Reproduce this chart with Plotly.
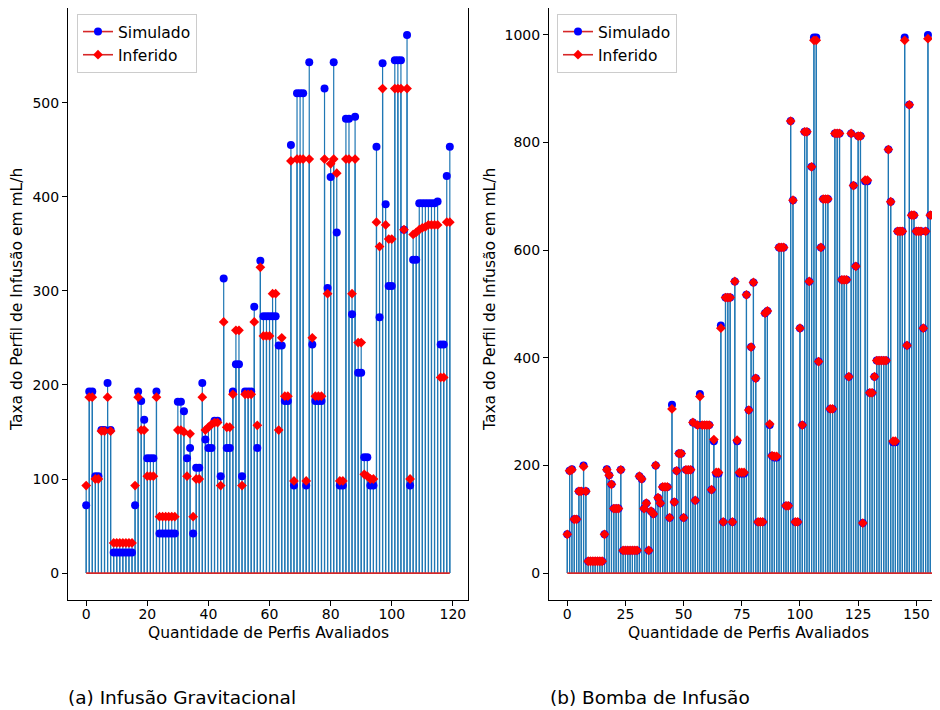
import plotly.graph_objects as go

# ---------------- data ----------------
# (a) Infusão Gravitacional
grav_sim = [72, 193, 193, 103, 103, 152, 152, 202, 152,
            22, 22, 22, 22, 22, 22, 22,
            72, 193, 183, 163, 122, 122, 122, 193,
            42, 42, 42, 42, 42, 42,
            182, 182, 172, 122, 133, 42, 112, 112, 202, 142,
            133, 133, 162, 162, 103, 313, 133, 133, 193, 222,
            222, 103, 193, 193, 193, 283, 133, 332, 273, 273,
            273, 273, 273, 242, 242, 183, 183, 455, 93, 510,
            510, 510, 93, 543, 243, 183, 183, 183, 515, 303,
            421, 543, 362, 93, 93, 483, 483, 275, 485, 213,
            213, 123, 123, 93, 93, 453, 272, 542, 392, 305,
            305, 545, 545, 545, 365, 572, 93, 333, 333, 393,
            393, 393, 393, 393, 393, 395, 243, 243, 422, 453]
grav_inf = [93, 187, 187, 100, 100, 151, 151, 187, 151,
            32, 32, 32, 32, 32, 32, 32,
            93, 187, 152, 152, 103, 103, 103, 187,
            60, 60, 60, 60, 60, 60,
            152, 152, 150, 103, 148, 60, 100, 100, 187, 152,
            155, 158, 160, 160, 93, 267, 155, 155, 190, 258,
            258, 93, 190, 190, 190, 267, 157, 325, 252, 252,
            252, 297, 297, 152, 250, 188, 188, 438, 98, 440,
            440, 440, 98, 440, 250, 188, 188, 188, 440, 297,
            435, 440, 425, 98, 98, 440, 440, 297, 440, 245,
            245, 105, 103, 100, 100, 373, 347, 515, 370, 355,
            355, 515, 515, 515, 365, 515, 100, 360, 362, 365,
            367, 368, 370, 370, 370, 370, 208, 208, 373, 373]

# (b) Bomba de Infusão
pump_sim = [72, 190, 193, 100, 100, 152, 152, 200, 152,
            22, 22, 22, 22, 22, 22, 22,
            72, 193, 182, 165, 120, 120, 120, 192,
            42, 42, 42, 42, 42, 42, 42,
            180, 175, 120, 130, 42, 115, 110, 200, 140,
            130, 160, 160, 160, 103, 313, 132, 190, 222, 222,
            103, 192, 192, 192, 280, 135, 275, 333, 275, 275,
            275, 275, 155, 245, 185, 185, 460, 95, 512, 512,
            512, 95, 542, 245, 185, 185, 185, 517, 303, 420,
            540, 362, 95, 95, 95, 483, 487, 275, 218, 215,
            215, 605, 605, 605, 125, 125, 840, 693, 95, 95,
            455, 275, 820, 820, 542, 755, 995, 995, 393, 605,
            695, 695, 695, 305, 305, 817, 817, 817, 545, 545,
            545, 365, 817, 720, 570, 812, 812, 93, 728, 728,
            335, 335, 365, 395, 395, 395, 395, 395, 787, 690,
            243, 243, 635, 635, 635, 995, 423, 870, 665, 665,
            635, 635, 635, 455, 635, 1000, 665, 665]
pump_inf = [72, 190, 192, 100, 100, 152, 152, 198, 152,
            22, 22, 22, 22, 22, 22, 22,
            72, 192, 182, 165, 120, 120, 120, 192,
            42, 42, 42, 42, 42, 42, 42,
            180, 175, 120, 130, 42, 115, 110, 200, 140,
            130, 160, 160, 160, 103, 305, 132, 190, 222, 222,
            103, 192, 192, 192, 280, 135, 275, 328, 275, 275,
            275, 275, 155, 248, 187, 187, 455, 95, 512, 512,
            512, 95, 542, 247, 187, 187, 187, 517, 303, 420,
            540, 362, 95, 95, 95, 483, 487, 277, 218, 217,
            217, 605, 605, 605, 125, 125, 840, 693, 95, 95,
            455, 275, 820, 820, 542, 755, 990, 990, 393, 605,
            695, 695, 695, 305, 305, 817, 817, 817, 545, 545,
            545, 365, 817, 720, 570, 812, 812, 93, 730, 730,
            335, 335, 365, 395, 395, 395, 395, 395, 787, 690,
            245, 245, 635, 635, 635, 990, 423, 870, 665, 665,
            635, 635, 635, 455, 635, 993, 665, 665]

grav_xticks = [0, 20, 40, 60, 80, 100, 120]
grav_yticks = [0, 100, 200, 300, 400, 500]
pump_xticks = [0, 25, 50, 75, 100, 125, 150]
pump_yticks = [0, 200, 400, 600, 800, 1000]

# ---------------- layout constants ----------------
# the page body has an 8px margin, so the figure is drawn 8px right/down;
# positions below are given in page pixels and converted.
OFF = 8
PAGE_W, PAGE_H = 940, 710
W, H = PAGE_W - OFF, PAGE_H - OFF
PLOT_TOP, PLOT_BOT = 8, 600          # page px
MT = PLOT_TOP - OFF
MB = H - (PLOT_BOT - OFF)
PH = H - MT - MB
FONT = "DejaVu Sans"
STEM = "#1f77b4"
BASE = "#d62728"


def px_x(p):
    return (p - OFF) / W


def px_y(p):
    return (PLOT_BOT - p) / PH


fig = go.Figure()


def add_stem(sim, inf, xa, ya, legend):
    n = len(sim)
    xs, ys = [], []
    for i in range(n):
        for v in (sim[i], inf[i]):
            xs += [i, i, None]
            ys += [0, v, None]
    fig.add_trace(go.Scatter(x=xs, y=ys, mode="lines", xaxis=xa, yaxis=ya,
                             line=dict(color=STEM, width=1.2),
                             showlegend=False, hoverinfo="skip"))
    fig.add_trace(go.Scatter(x=[0, n - 1], y=[0, 0], mode="lines", xaxis=xa, yaxis=ya,
                             line=dict(color=BASE, width=1.6),
                             showlegend=False, hoverinfo="skip"))
    fig.add_trace(go.Scatter(x=list(range(n)), y=sim, mode="markers", xaxis=xa, yaxis=ya,
                             marker=dict(symbol="circle", size=8, color="#0000ff"),
                             showlegend=False))
    fig.add_trace(go.Scatter(x=list(range(n)), y=inf, mode="markers", xaxis=xa, yaxis=ya,
                             marker=dict(symbol="diamond", size=7.5, color="#ff0000"),
                             showlegend=False))
    # legend entries
    fig.add_trace(go.Scatter(x=[None], y=[None], mode="lines+markers", xaxis=xa, yaxis=ya,
                             name="Simulado", legend=legend,
                             line=dict(color=BASE, width=1.6),
                             marker=dict(symbol="circle", size=8, color="#0000ff")))
    fig.add_trace(go.Scatter(x=[None], y=[None], mode="lines+markers", xaxis=xa, yaxis=ya,
                             name="Inferido", legend=legend,
                             line=dict(color=BASE, width=1.6),
                             marker=dict(symbol="diamond", size=7.5, color="#ff0000")))


add_stem(grav_sim, grav_inf, "x", "y", "legend")
add_stem(pump_sim, pump_inf, "x2", "y2", "legend2")

tickfont = dict(family=FONT, size=14, color="black")
axis_common = dict(showgrid=False, zeroline=False, showline=True, linecolor="black",
                   linewidth=1, ticks="outside", ticklen=5, tickcolor="black",
                   tickwidth=1, tickfont=tickfont)

n1 = len(grav_sim) - 1
n2 = len(pump_sim) - 1
left_l, left_r = 68, 468            # page px
right_l = 549                       # page px
px_per_unit2 = 2.327
x2_min = -0.05 * n2
x2_max = x2_min + (PAGE_W - right_l) / px_per_unit2

fig.update_layout(
    width=W, height=H,
    margin=dict(l=0, r=0, t=MT, b=MB),
    paper_bgcolor="white", plot_bgcolor="white",
    xaxis=dict(domain=[px_x(left_l), px_x(left_r)], anchor="y",
               range=[-0.05 * n1, n1 * 1.05], tickvals=grav_xticks,
               mirror=True, ticklabelstandoff=-4, **axis_common),
    yaxis=dict(domain=[0, 1], anchor="x",
               range=[-0.05 * max(grav_sim), 1.05 * max(grav_sim)], tickvals=grav_yticks,
               mirror=True, **axis_common),
    xaxis2=dict(domain=[px_x(right_l), 1], anchor="y2",
                range=[x2_min, x2_max], tickvals=pump_xticks,
                mirror=True, ticklabelstandoff=-4, **axis_common),
    yaxis2=dict(domain=[0, 1], anchor="x2",
                range=[-0.05 * max(pump_sim), 1.05 * max(pump_sim)], tickvals=pump_yticks,
                mirror=False, **axis_common),
    legend=dict(x=px_x(77), y=px_y(14), xanchor="left", yanchor="top",
                bgcolor="rgba(255,255,255,0.85)", bordercolor="#cccccc", borderwidth=1,
                font=dict(family=FONT, size=15.5, color="black"), tracegroupgap=0),
    legend2=dict(x=px_x(557), y=px_y(14), xanchor="left", yanchor="top",
                 bgcolor="rgba(255,255,255,0.85)", bordercolor="#cccccc", borderwidth=1,
                 font=dict(family=FONT, size=15.5, color="black"), tracegroupgap=0),
    showlegend=True,
)

lab = dict(family=FONT, size=15.5, color="black")
ann = [
    dict(text="Quantidade de Perfis Avaliados", x=px_x((left_l + left_r) / 2), y=px_y(633),
         xref="paper", yref="paper", showarrow=False, font=lab, xanchor="center", yanchor="middle"),
    dict(text="Quantidade de Perfis Avaliados", x=px_x(748), y=px_y(633),
         xref="paper", yref="paper", showarrow=False, font=lab, xanchor="center", yanchor="middle"),
    dict(text="Taxa do Perfil de Infusão em mL/h", x=px_x(17), y=px_y(300), textangle=-90,
         xref="paper", yref="paper", showarrow=False, font=lab, xanchor="center", yanchor="middle"),
    dict(text="Taxa do Perfil de Infusão em mL/h", x=px_x(490), y=px_y(300), textangle=-90,
         xref="paper", yref="paper", showarrow=False, font=lab, xanchor="center", yanchor="middle"),
    dict(text="(a) Infusão Gravitacional", x=px_x(66), y=px_y(697),
         xref="paper", yref="paper", showarrow=False,
         font=dict(family=FONT, size=18.5, color="black"), xanchor="left", yanchor="middle"),
    dict(text="(b) Bomba de Infusão", x=px_x(548), y=px_y(697),
         xref="paper", yref="paper", showarrow=False,
         font=dict(family=FONT, size=18.5, color="black"), xanchor="left", yanchor="middle"),
]
fig.update_layout(annotations=ann)

fig.write_html("out.html")
